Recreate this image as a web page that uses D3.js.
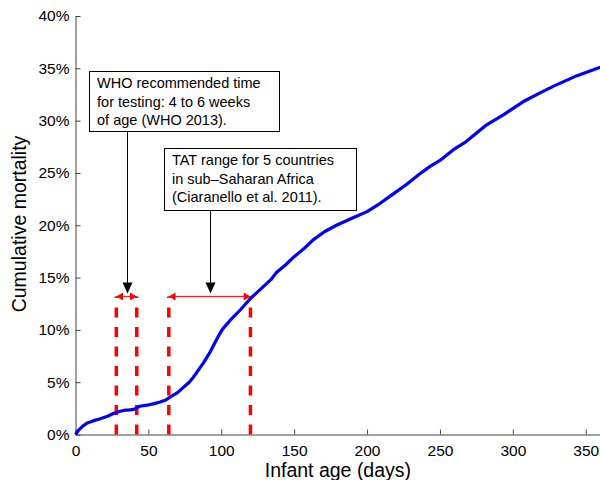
<!DOCTYPE html>
<html>
<head>
<meta charset="utf-8">
<script src="https://cdn.jsdelivr.net/npm/d3@7"></script>
<style>
  body { margin: 0; background: #fff; }
  svg { display: block; font-family: "Liberation Sans", Arial, Helvetica, sans-serif; }
</style>
</head>
<body>
<div id="chart"></div>
<script>
// cumulative mortality curve
const days = [0, 2, 5, 8, 12, 17, 22, 26, 30, 33, 37, 40, 44, 49, 54, 58, 62, 65, 70, 74, 78, 81, 85, 88,
  92, 95, 98, 101, 106, 113, 120, 127, 134, 138, 144, 150, 157, 163, 171, 179, 190, 200, 209, 218, 227,
  236, 243, 250, 259, 268, 282, 294, 307, 318, 328, 336, 344, 352, 360];
const mortality = [0, 0.4, 0.8, 1.1, 1.3, 1.5, 1.75, 2.0, 2.2, 2.3, 2.35, 2.4, 2.7, 2.8, 2.95, 3.1, 3.3, 3.6,
  4.0, 4.5, 5.0, 5.5, 6.3, 6.9, 7.8, 8.6, 9.4, 10.1, 10.9, 11.9, 13.0, 13.9, 14.8, 15.5, 16.2, 17.0, 17.8,
  18.6, 19.4, 20.0, 20.7, 21.3, 22.1, 23.0, 23.9, 24.9, 25.6, 26.2, 27.2, 28.0, 29.6, 30.6, 31.8, 32.6,
  33.3, 33.8, 34.3, 34.7, 35.1];

const xTicks = [0, 50, 100, 150, 200, 250, 300, 350];
const yTicks = [0, 5, 10, 15, 20, 25, 30, 35, 40];

// testing windows (days) and the height of the range markers (%)
const ranges = [[28, 42], [64, 120]];
const rangeLevel = 13.2;

// text boxes: anchor in data units (day, %), arrow points to day
const notes = [
  { day: 9.3, pct: 34.7, w: 190, h: 60, arrowDay: 35,
    lines: ["WHO recommended time", "for testing: 4 to 6 weeks", "of age (WHO 2013)."] },
  { day: 60.7, pct: 27.35, w: 192, h: 62, arrowDay: 92,
    lines: ["TAT range for 5 countries", "in sub\u2013Saharan Africa", "(Ciaranello et al. 2011)."] }
];

const width = 600, height = 480;
const margin = { top: 16, right: 0, bottom: 45.5, left: 75.5 };

const svg = d3.select("#chart").append("svg")
  .attr("width", width)
  .attr("height", height);

const x = d3.scaleLinear().domain([0, 360]).range([margin.left, 600.3]);
const y = d3.scaleLinear().domain([0, 40]).range([height - margin.bottom, margin.top]);

// axes, MATLAB style: ticks inward, no box
const xAxis = svg.append("g")
  .attr("transform", `translate(0,${y(0)})`)
  .call(d3.axisBottom(x).tickValues(xTicks).tickSizeInner(-5).tickSizeOuter(0).tickPadding(10));
const yAxis = svg.append("g")
  .attr("transform", `translate(${x(0)},0)`)
  .call(d3.axisLeft(y).tickValues(yTicks).tickFormat(d => d + "%")
    .tickSizeInner(-5).tickSizeOuter(0).tickPadding(6));

[xAxis, yAxis].forEach(g => {
  g.selectAll("path.domain").attr("stroke", "#444");
  g.selectAll(".tick line").attr("stroke", "#444");
  g.selectAll(".tick text")
    .attr("fill", "#000")
    .style("font-size", "15.5px")
    .style("font-family", "'Liberation Sans', Arial, sans-serif");
});
xAxis.selectAll(".tick text").attr("y", 10).attr("dy", "0.71em");

// axis titles
svg.append("text")
  .attr("x", (x(0) + x(360)) / 2)
  .attr("y", 477)
  .attr("text-anchor", "middle")
  .style("font-size", "19.5px")
  .text("Infant age (days)");

svg.append("text")
  .attr("transform", "translate(25.7,224) rotate(-90)")
  .attr("text-anchor", "middle")
  .style("font-size", "19.5px")
  .text("Cumulative mortality");

// red dashed vertical lines at the range limits
const limits = ranges.flat();
svg.selectAll("line.limit")
  .data(limits)
  .enter()
  .append("line")
  .attr("class", "limit")
  .attr("x1", d => x(d)).attr("x2", d => x(d))
  .attr("y1", y(0)).attr("y2", y(rangeLevel))
  .attr("stroke", "#ff0000")
  .attr("stroke-width", 3.5)
  .attr("stroke-dasharray", "10,9.5");

// the mortality curve
const line = d3.line()
  .x((d, i) => x(days[i]))
  .y(d => y(d));

svg.append("path")
  .datum(mortality)
  .attr("d", line)
  .attr("fill", "none")
  .attr("stroke", "#0000ff")
  .attr("stroke-width", 3.2)
  .attr("stroke-linejoin", "round");

// range markers (double arrows)
const ry = y(rangeLevel);
ranges.forEach(([a, b]) => {
  const xa = x(a), xb = x(b);
  svg.append("line")
    .attr("x1", xa).attr("x2", xb)
    .attr("y1", ry).attr("y2", ry)
    .attr("stroke", "#ff0000")
    .attr("stroke-width", 1);
  [[xa, 1], [xb, -1]].forEach(([xe, dir]) => {
    svg.append("path")
      .attr("d", `M${xe},${ry}L${xe + dir * 6},${ry - 3.5}L${xe + dir * 6},${ry + 3.5}Z`)
      .attr("fill", "#ff0000");
    svg.append("line")
      .attr("x1", xe + dir * 6).attr("x2", xe + dir * 6)
      .attr("y1", ry - 3.5).attr("y2", ry + 3.5)
      .attr("stroke", "#ff0000")
      .attr("stroke-width", 1.5);
  });
});

// annotation boxes and arrows
notes.forEach(n => {
  const bx = x(n.day), by = y(n.pct);
  const g = svg.append("g");
  g.append("rect")
    .attr("x", Math.round(bx) + 0.5).attr("y", Math.round(by) + 0.5)
    .attr("width", n.w).attr("height", n.h)
    .attr("fill", "#fff")
    .attr("stroke", "#000")
    .attr("stroke-width", 1);
  g.selectAll("text")
    .data(n.lines)
    .enter()
    .append("text")
    .attr("x", bx + 8)
    .attr("y", (d, i) => by + 17 + i * 18.3)
    .style("font-size", "14.5px")
    .text(d => d);

  const ax = Math.round(x(n.arrowDay)) + 0.5;
  const tip = y(rangeLevel) - 3;
  g.append("line")
    .attr("x1", ax).attr("x2", ax)
    .attr("y1", by + n.h).attr("y2", tip - 10)
    .attr("stroke", "#000")
    .attr("stroke-width", 1);
  g.append("path")
    .attr("d", `M${ax},${tip}L${ax - 5},${tip - 11}L${ax + 5},${tip - 11}Z`)
    .attr("fill", "#000");
});
</script>
</body>
</html>
